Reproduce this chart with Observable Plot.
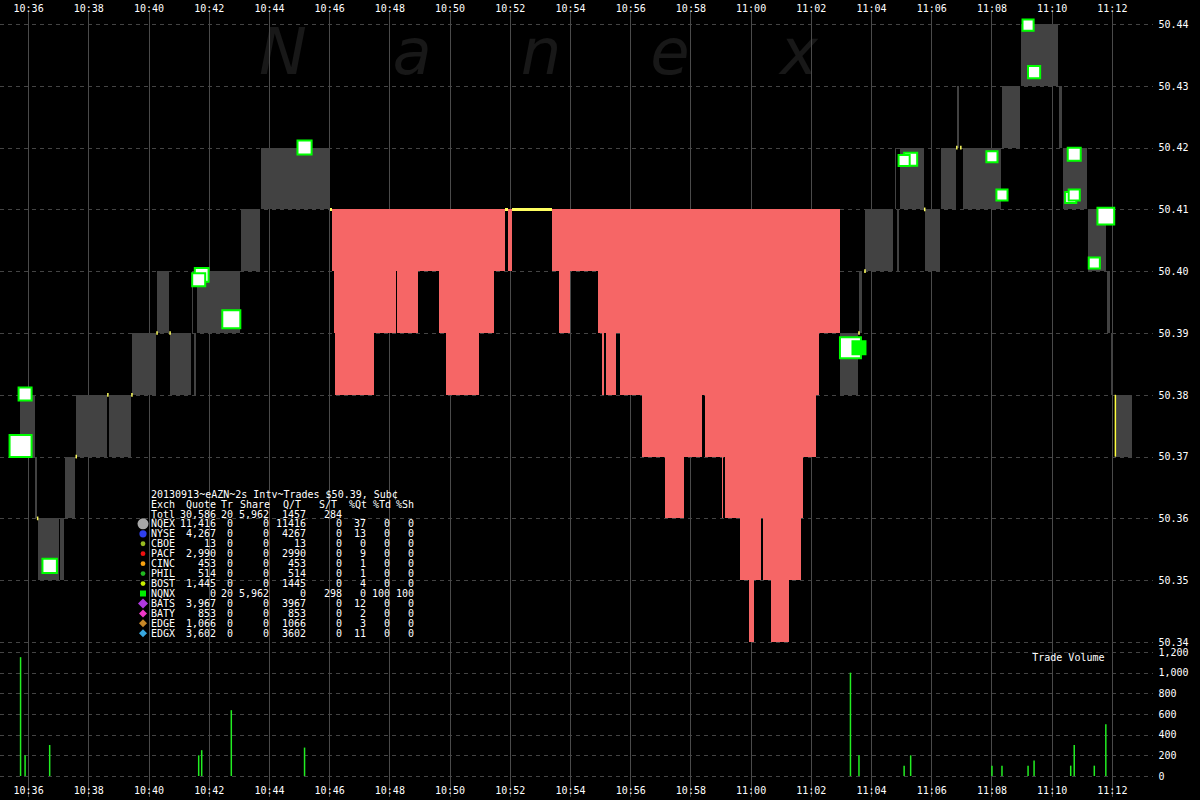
<!DOCTYPE html>
<html><head><meta charset="utf-8">
<script src="https://cdn.jsdelivr.net/npm/d3@7"></script>
<script src="https://cdn.jsdelivr.net/npm/@observablehq/plot@0.6"></script>
<style>
html,body{margin:0;padding:0;background:#000;}
#wrap{position:relative;width:1200px;height:800px;background:#000;overflow:hidden;font-family:"DejaVu Sans Mono",monospace;}
#wrap > svg{position:absolute;left:0;}
</style></head><body><div id="wrap"></div>
<script>
// ---------------- DATA ----------------
const timeTicks = ["10:36","10:38","10:40","10:42","10:44","10:46","10:48","10:50","10:52","10:54","10:56","10:58","11:00","11:02","11:04","11:06","11:08","11:10","11:12"];
const priceTicks = [50.34,50.35,50.36,50.37,50.38,50.39,50.40,50.41,50.42,50.43,50.44];
const volumeTicks = [0,200,400,600,800,1000,1200];

// NBBO with normal spread: [start, end, bid, ask]
const greyQuotes = [
  ["10:35:44","10:36:14",50.37,50.38],
  ["10:36:14","10:36:18",50.36,50.37],
  ["10:36:20","10:37:02",50.35,50.36],
  ["10:37:04","10:37:12",50.35,50.36],
  ["10:37:14","10:37:34",50.36,50.37],
  ["10:37:36","10:38:37",50.37,50.38],
  ["10:38:41","10:39:25",50.37,50.38],
  ["10:39:27","10:40:15",50.38,50.39],
  ["10:40:17","10:40:41",50.39,50.40],
  ["10:40:43","10:41:25",50.38,50.39],
  ["10:41:27","10:41:29",50.39,50.40],
  ["10:41:31","10:41:35",50.38,50.39],
  ["10:41:37","10:43:02",50.39,50.40],
  ["10:43:04","10:43:42",50.40,50.41],
  ["10:43:44","10:46:02",50.41,50.42],
  ["11:02:58","11:03:34",50.38,50.39],
  ["11:03:36","11:03:42",50.39,50.40],
  ["11:03:48","11:04:44",50.40,50.41],
  ["11:04:48","11:04:50",50.41,50.42],
  ["11:04:52","11:04:56",50.40,50.41],
  ["11:04:58","11:05:45",50.41,50.42],
  ["11:05:47","11:06:17",50.40,50.41],
  ["11:06:19","11:06:49",50.41,50.42],
  ["11:06:51","11:06:55",50.42,50.43],
  ["11:07:03","11:08:19",50.41,50.42],
  ["11:08:21","11:08:57",50.42,50.43],
  ["11:08:59","11:10:13",50.43,50.44],
  ["11:10:15","11:10:21",50.42,50.43],
  ["11:10:22","11:11:10",50.41,50.42],
  ["11:11:12","11:11:48",50.40,50.41],
  ["11:11:50","11:11:56",50.39,50.40],
  ["11:11:58","11:12:02",50.38,50.39],
  ["11:12:06","11:12:40",50.37,50.38]
];

// NBBO with wide spread: [start, end, bid, ask]
const wideQuotes = [
  ["10:46:06","10:46:10",50.40,50.41],
  ["10:46:10","10:46:12",50.39,50.41],
  ["10:46:12","10:47:30",50.38,50.41],
  ["10:47:30","10:48:13",50.39,50.41],
  ["10:48:13","10:48:15",50.40,50.41],
  ["10:48:15","10:48:57",50.39,50.41],
  ["10:48:57","10:49:39",50.40,50.41],
  ["10:49:39","10:49:53",50.39,50.41],
  ["10:49:53","10:50:59",50.38,50.41],
  ["10:50:59","10:51:29",50.39,50.41],
  ["10:51:29","10:51:51",50.40,50.41],
  ["10:51:57","10:52:04",50.40,50.41],
  ["10:53:24","10:53:38",50.40,50.41],
  ["10:53:38","10:54:00",50.39,50.41],
  ["10:54:00","10:54:56",50.40,50.41],
  ["10:54:56","10:55:04",50.39,50.41],
  ["10:55:04","10:55:08",50.38,50.41],
  ["10:55:08","10:55:12",50.39,50.41],
  ["10:55:12","10:55:32",50.38,50.41],
  ["10:55:32","10:55:40",50.39,50.41],
  ["10:55:40","10:56:23",50.38,50.41],
  ["10:56:23","10:57:09",50.37,50.41],
  ["10:57:09","10:57:47",50.36,50.41],
  ["10:57:47","10:58:23",50.37,50.41],
  ["10:58:23","10:58:29",50.38,50.41],
  ["10:58:29","10:59:03",50.37,50.41],
  ["10:59:03","10:59:05",50.36,50.41],
  ["10:59:05","10:59:09",50.37,50.41],
  ["10:59:09","10:59:39",50.36,50.41],
  ["10:59:39","10:59:57",50.35,50.41],
  ["10:59:57","11:00:07",50.34,50.41],
  ["11:00:07","11:00:21",50.35,50.41],
  ["11:00:21","11:00:25",50.36,50.41],
  ["11:00:25","11:00:41",50.35,50.41],
  ["11:00:41","11:01:16",50.34,50.41],
  ["11:01:16","11:01:40",50.35,50.41],
  ["11:01:40","11:01:44",50.36,50.41],
  ["11:01:44","11:02:10",50.37,50.41],
  ["11:02:10","11:02:16",50.38,50.41],
  ["11:02:16","11:02:58",50.39,50.41]
];

// Locked quotes: [time, price]
const lockedTicks = [
  ["10:36:18",50.36],["10:37:35",50.37],["10:38:38",50.38],["10:39:26",50.38],
  ["10:40:16",50.39],["10:40:42",50.39],["11:03:35",50.39],["11:03:47",50.40],
  ["11:05:46",50.41],["11:06:50",50.42],["11:06:58",50.42]
];
// Locked periods: [start, end, price]
const lockedSpans = [
  ["10:46:02","10:46:06",50.41],
  ["10:51:51","10:51:57",50.41],
  ["10:52:04","10:53:24",50.41]
];
// Crossed quote: [time, low, high]
const crossedBars = [["11:12:06",50.37,50.38]];

// Trades: [time, price, shares, reportedByNQNXonly]
const trades = [
  ["10:35:44",50.3718,1150,false],
  ["10:35:53",50.3802,200,false],
  ["10:36:42",50.3524,300,false],
  ["10:41:39",50.3987,200,false],
  ["10:41:45",50.3995,250,false],
  ["10:42:44",50.3923,637,false],
  ["10:45:10",50.4201,275,false],
  ["11:03:18",50.3877,1000,false],
  ["11:03:35",50.3877,200,true],
  ["11:05:05",50.4180,100,false],
  ["11:05:18",50.4182,200,false],
  ["11:08:00",50.4186,100,false],
  ["11:08:20",50.4124,100,false],
  ["11:09:12",50.4399,100,false],
  ["11:09:24",50.4323,150,false],
  ["11:10:37",50.4120,100,false],
  ["11:10:44",50.4190,200,false],
  ["11:10:44",50.4124,100,false],
  ["11:11:24",50.4014,100,false],
  ["11:11:47",50.4090,500,false]
];

// Stats table
const tableTitle = "20130913~eAZN~2s Intv~Trades $50.39, Sub¢";
const tableHeader = ["Exch","Quote","Tr","Share","Q/T","S/T","%Qt","%Td","%Sh"];
const totals = ["Totl","30,586","20","5,962","1457","284"];
const exchanges = ["NQEX","NYSE","CBOE","PACF","CINC","PHIL","BOST","NQNX","BATS","BATY","EDGE","EDGX"];
const quotes   = [11416,4267,13,2990,453,514,1445,0,3967,853,1066,3602];
const tradeCnt = [0,0,0,0,0,0,0,20,0,0,0,0];
const shares   = [0,0,0,0,0,0,0,5962,0,0,0,0];
const qPerT    = [11416,4267,13,2990,453,514,1445,0,3967,853,1066,3602];
const sPerT    = [0,0,0,0,0,0,0,298,0,0,0,0];
const pctQt    = [37,13,0,9,1,1,4,0,12,2,3,11];
const pctTd    = [0,0,0,0,0,0,0,100,0,0,0,0];
const pctSh    = [0,0,0,0,0,0,0,100,0,0,0,0];
const exSymbol = ["circleL","circleM","circle","circle","circle","circle","circle","square","diamondL","diamond","diamond","diamond"];
const exColor  = ["#a8a8a8","#3040f0","#98bb20","#ee1010","#f8a010","#20b820","#c8ee00","#00ee00","#b038e0","#f038c8","#c88828","#38a8e0"];

// ---------------- DRAW ----------------
const T = s => new Date("2013-09-13T" + (s.length === 5 ? s + ":00" : s) + "Z");
const wrap = document.getElementById("wrap");
const font = "DejaVu Sans Mono, monospace";

// watermark
const bg = d3.select(wrap).append("svg").attr("width",1200).attr("height",800).style("top","0px");
bg.selectAll("text").data(["N","a","n","e","x"]).join("text")
  .attr("x",(d,i)=>283 + i*129).attr("y",74).attr("text-anchor","middle")
  .attr("font-family","DejaVu Sans").attr("font-style","italic").attr("font-size",64)
  .attr("fill","#181818").text(d=>d);

const xScale = {type:"utc", domain:[T("10:35:04"), T("11:13:22")], axis:null};
const gridV = "#4a4a4a", gridH = "#444";
const baseStyle = {background:"transparent", color:"#fff", fontFamily:font, fontSize:"10px", overflow:"visible"};
const crisp = {shapeRendering:"crispEdges"};

const price = Plot.plot({
  width:1200, height:650, marginLeft:0, marginRight:47, marginTop:24, marginBottom:8,
  style:baseStyle,
  x:xScale,
  y:{domain:[50.34,50.44], axis:null},
  r:{type:"sqrt", domain:[0,1200], range:[3.7,12.6]},
  marks:[
    Plot.ruleY(priceTicks, {y:d=>d, stroke:gridH, strokeDasharray:"4,4", ...crisp}),
    Plot.ruleX(timeTicks, {x:d=>T(d), stroke:gridV, insetTop:-12, insetBottom:-8, ...crisp}),
    Plot.rect(greyQuotes, {x1:d=>T(d[0]), x2:d=>T(d[1]), y1:d=>d[2], y2:d=>d[3], fill:"#424242", ...crisp}),
    Plot.rect(wideQuotes, {x1:d=>T(d[0]), x2:d=>T(d[1]), y1:d=>d[2], y2:d=>d[3], fill:"#f66666", ...crisp}),
    Plot.rect(lockedSpans, {x1:d=>T(d[0]), x2:d=>T(d[1]), y1:d=>d[2]-0.0003, y2:d=>d[2]+0.0003, fill:"#ffff60", ...crisp}),
    Plot.ruleX(lockedTicks, {x:d=>T(d[0]), y1:d=>d[1]-0.0003, y2:d=>d[1]+0.0003, stroke:"#ffff60", strokeWidth:1.5}),
    Plot.ruleX(crossedBars, {x:d=>T(d[0]), y1:d=>d[1], y2:d=>d[2], stroke:"#ffff40", strokeWidth:1.5}),
    Plot.dot(trades.filter(d=>!d[3]), {x:d=>T(d[0]), y:d=>d[1], r:d=>d[2], symbol:"square", fill:"#fff", stroke:"#00ff00", strokeWidth:2}),
    Plot.dot(trades.filter(d=>d[3]), {x:d=>T(d[0]), y:d=>d[1], r:d=>d[2], symbol:"square", fill:"#00ff00", stroke:"#00ff00", strokeWidth:2}),
    Plot.text(timeTicks, {x:d=>T(d), text:d=>d, frameAnchor:"top", dy:-20, fill:"#fff"}),
    Plot.text(priceTicks, {y:d=>d, text:d=>d.toFixed(2), frameAnchor:"right", dx:5, textAnchor:"start", fill:"#fff"})
  ]
});
price.style.top = "0px";
wrap.appendChild(price);

const volByTime = Array.from(d3.rollup(trades, v=>d3.sum(v, d=>d[2]), d=>d[0]), ([t,v])=>({t:T(t), v}));
const vol = Plot.plot({
  width:1200, height:150, marginLeft:0, marginRight:47, marginTop:2, marginBottom:24,
  style:baseStyle,
  x:xScale,
  y:{domain:[0,1200], axis:null},
  marks:[
    Plot.ruleY(volumeTicks, {y:d=>d, stroke:gridH, strokeDasharray:"4,4", ...crisp}),
    Plot.ruleX(timeTicks, {x:d=>T(d), stroke:gridV, insetTop:-2, insetBottom:-21, ...crisp}),
    Plot.ruleX(volByTime, {x:"t", y1:0, y2:"v", stroke:"#22ee22", strokeWidth:1.5}),
    Plot.text(timeTicks, {x:d=>T(d), text:d=>d, frameAnchor:"bottom", dy:17, fill:"#fff"}),
    Plot.text(volumeTicks, {y:d=>d, text:d=>d3.format(",")(d), frameAnchor:"right", dx:5, textAnchor:"start", fill:"#fff"}),
    Plot.text(["Trade Volume"], {text:d=>d, frameAnchor:"top-right", dx:-49, dy:1, textAnchor:"end", fill:"#fff"})
  ]
});
vol.style.top = "650px";
wrap.appendChild(vol);

// stats table
const leg = d3.select(wrap).append("svg").attr("width",1200).attr("height",800).style("top","0px").style("pointer-events","none")
  .attr("font-family",font).attr("font-size",10).attr("fill","#fff");
const rowY = k => 494 + 9.95*k + 3.6;
const cols = [216,233,269,306,342,366,390,414];
const hdrCols = [216,233,270,301,337,367,391,414];
leg.append("text").attr("x",151).attr("y",rowY(0)).text(tableTitle);
leg.append("text").attr("x",151).attr("y",rowY(1)).text(tableHeader[0]);
tableHeader.slice(1).forEach((h,i)=>leg.append("text").attr("x",hdrCols[i]).attr("y",rowY(1)).attr("text-anchor","end").text(h));
leg.append("text").attr("x",151).attr("y",rowY(2)).text(totals[0]);
totals.slice(1).forEach((v,i)=>leg.append("text").attr("x",cols[i]).attr("y",rowY(2)).attr("text-anchor","end").text(v));
const fmtC = d3.format(",");
exchanges.forEach((ex,i)=>{
  const y = rowY(3+i);
  const cy = 494 + 9.95*(3+i);
  leg.append("text").attr("x",151).attr("y",y).text(ex);
  const vals = [fmtC(quotes[i]), tradeCnt[i], fmtC(shares[i]), qPerT[i], sPerT[i], pctQt[i], pctTd[i], pctSh[i]];
  vals.forEach((v,j)=>leg.append("text").attr("x",cols[j]).attr("y",y).attr("text-anchor","end").text(v));
  const s = exSymbol[i], c = exColor[i], cx = 143;
  if (s.startsWith("circle")) {
    const r = s==="circleL" ? 5.5 : s==="circleM" ? 3.6 : 2.4;
    leg.append("circle").attr("cx",cx).attr("cy",cy).attr("r",r).attr("fill",c);
  } else if (s==="square") {
    leg.append("rect").attr("x",cx-3).attr("y",cy-3).attr("width",6).attr("height",6).attr("fill",c);
  } else {
    const h = s==="diamondL" ? 5 : 4;
    leg.append("path").attr("d",`M${cx},${cy-h}L${cx+h},${cy}L${cx},${cy+h}L${cx-h},${cy}Z`).attr("fill",c);
  }
});
</script></body></html>
